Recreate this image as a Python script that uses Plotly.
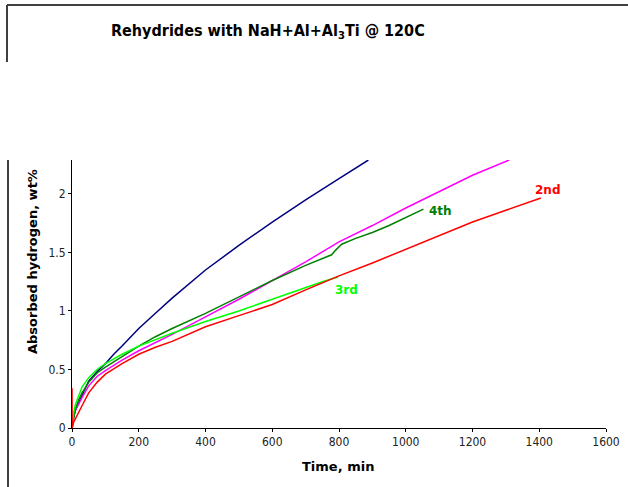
import plotly.graph_objects as go

# Rehydriding runs at 120 C: absorbed hydrogen (wt%) versus time (min)
t_1st = [0, 5, 10, 20, 30, 50, 75, 100, 125, 150, 200, 250, 300, 400, 500, 600, 700, 800, 888]
h_1st = [0, 0.10, 0.15, 0.22, 0.28, 0.40, 0.48, 0.55, 0.63, 0.70, 0.85, 0.98, 1.11, 1.35, 1.56, 1.76, 1.95, 2.13, 2.29]

t_2nd = [0, 0.5, 5, 10, 20, 30, 50, 75, 100, 150, 200, 250, 300, 400, 500, 600, 700, 800, 900, 1000, 1100, 1200, 1300, 1405]
h_2nd = [0.34, 0, 0.05, 0.08, 0.13, 0.19, 0.30, 0.39, 0.46, 0.55, 0.63, 0.69, 0.74, 0.865, 0.96, 1.055, 1.18, 1.30, 1.41, 1.525, 1.64, 1.76, 1.86, 1.965]

t_3rd = [0, 5, 10, 20, 30, 50, 75, 100, 150, 200, 250, 300, 400, 500, 600, 700, 750, 797]
h_3rd = [0, 0.13, 0.20, 0.28, 0.35, 0.43, 0.50, 0.55, 0.63, 0.70, 0.755, 0.81, 0.91, 1.00, 1.10, 1.20, 1.25, 1.29]

t_4th = [0, 5, 10, 20, 30, 50, 75, 100, 150, 200, 250, 300, 400, 500, 600, 700, 778, 790, 808, 850, 900, 950, 1000, 1053]
h_4th = [0, 0.10, 0.16, 0.24, 0.30, 0.39, 0.47, 0.52, 0.61, 0.70, 0.78, 0.85, 0.98, 1.12, 1.26, 1.39, 1.48, 1.52, 1.57, 1.62, 1.67, 1.73, 1.80, 1.87]

t_5th = [0, 5, 10, 20, 30, 50, 75, 100, 150, 200, 250, 300, 400, 500, 600, 700, 800, 900, 1000, 1100, 1200, 1310]
h_5th = [0, 0.10, 0.15, 0.21, 0.26, 0.36, 0.44, 0.49, 0.58, 0.66, 0.73, 0.80, 0.95, 1.10, 1.26, 1.42, 1.59, 1.73, 1.88, 2.02, 2.16, 2.29]

x_ticks = [0, 200, 400, 600, 800, 1000, 1200, 1400, 1600]
y_ticks = [0, 0.5, 1, 1.5, 2]
y_tick_text = ["0", "0.5", "1", "1.5", "2"]

W, H = 628, 487
L, R, T, B = 72, 22, 160, 59
PW, PH = W - L - R, H - T - B


def px(x):
    return (x - L) / PW


def py(y):
    return (H - B - y) / PH


fig = go.Figure()
series = [
    (t_1st, h_1st, "#000080"),
    (t_5th, h_5th, "#FF00FF"),
    (t_4th, h_4th, "#008000"),
    (t_3rd, h_3rd, "#00FF00"),
    (t_2nd, h_2nd, "#FF0000"),
]
for t, h, c in series:
    fig.add_trace(go.Scatter(x=t, y=h, mode="lines", line=dict(color=c, width=1.5),
                             showlegend=False, hoverinfo="skip"))

label_font = dict(family="DejaVu Sans", size=12)
run_labels = [
    ("2nd", 1382, 2.03, "#FF0000"),
    ("4th", 1065, 1.85, "#008000"),
    ("3rd", 781, 1.18, "#00FF00"),
]
annotations = []
for txt, x, y, c in run_labels:
    annotations.append(dict(x=x, y=y, xref="x", yref="y", text=f"<b>{txt}</b>", showarrow=False,
                            xanchor="left", yanchor="middle",
                            font=dict(label_font, color=c)))

annotations.append(dict(x=px(268), y=py(31), xref="paper", yref="paper",
                        text="<b>Rehydrides with NaH+Al+Al<sub>3</sub>Ti @ 120C</b>",
                        showarrow=False, xanchor="center", yanchor="middle",
                        font=dict(family="DejaVu Sans Condensed", size=16, color="black")))
annotations.append(dict(x=px(338), y=py(466), xref="paper", yref="paper",
                        text="<b>Time, min</b>", showarrow=False, xanchor="center", yanchor="middle",
                        font=dict(family="DejaVu Sans", size=13, color="black")))
annotations.append(dict(x=px(32), y=py(262), xref="paper", yref="paper",
                        text="<b>Absorbed hydrogen, wt%</b>", showarrow=False, textangle=-90,
                        xanchor="center", yanchor="middle",
                        font=dict(family="DejaVu Sans", size=13, color="black")))

frame = dict(color="#404040", width=2)
shapes = [
    dict(type="line", xref="paper", yref="paper", x0=px(7), x1=px(W + 2), y0=py(5), y1=py(5), line=frame),
    dict(type="line", xref="paper", yref="paper", x0=px(7), x1=px(7), y0=py(5), y1=py(62), line=frame),
    dict(type="line", xref="paper", yref="paper", x0=px(8), x1=px(8), y0=py(160), y1=py(H + 2), line=frame),
]

fig.update_layout(
    width=W, height=H,
    margin=dict(l=L, r=R, t=T, b=B, autoexpand=False),
    paper_bgcolor="white", plot_bgcolor="white",
    annotations=annotations, shapes=shapes,
    xaxis=dict(range=[0, 1600], tickvals=x_ticks, showgrid=False, zeroline=False,
               showline=True, linecolor="black", linewidth=1, ticks="outside", ticklen=3,
               tickcolor="black", tickfont=dict(family="DejaVu Sans Condensed", size=12, color="#222")),
    yaxis=dict(range=[0, 2.29], tickvals=y_ticks, ticktext=y_tick_text, showgrid=False, zeroline=False,
               showline=True, linecolor="black", linewidth=1, ticks="outside", ticklen=3,
               tickcolor="black", tickfont=dict(family="DejaVu Sans Condensed", size=12, color="#222")),
)

fig.write_html("out.html")
